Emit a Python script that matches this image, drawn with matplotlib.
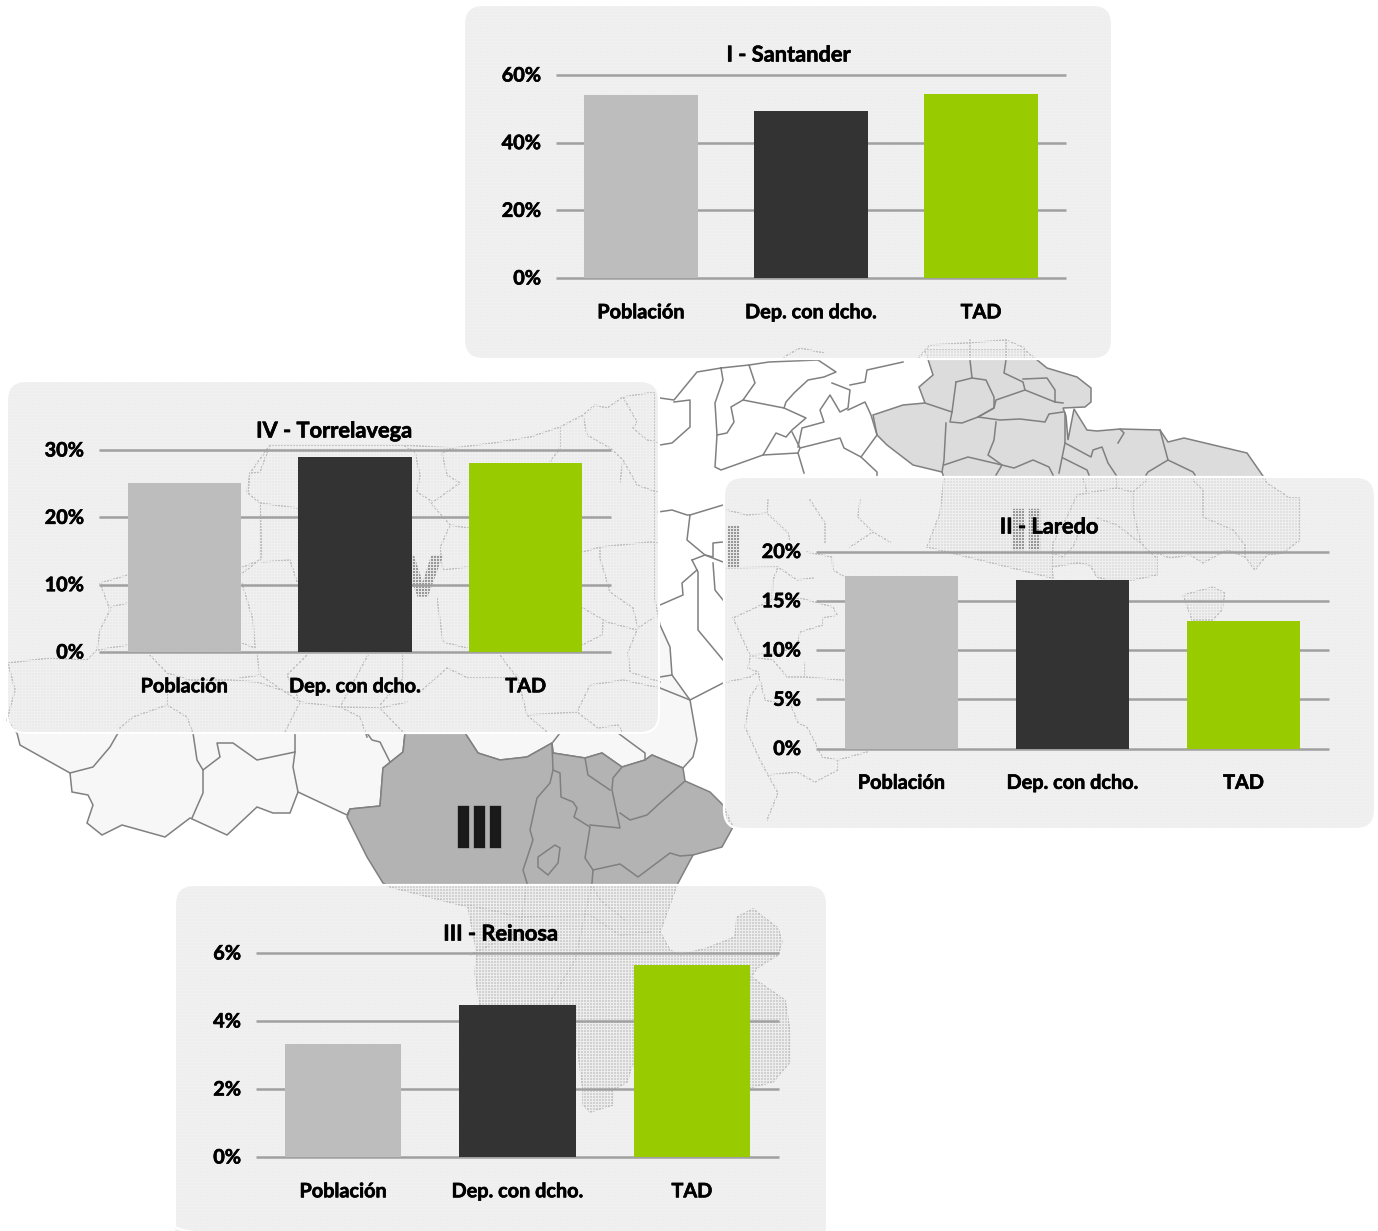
import numpy as np
import matplotlib
matplotlib.use("Agg")
import matplotlib.pyplot as plt
import matplotlib.patheffects as pe
from matplotlib.patches import FancyBboxPatch, Polygon
from matplotlib.transforms import ScaledTranslation

W, H = 1378, 1231
plt.rcParams['font.family'] = ['Lato', 'DejaVu Sans']
plt.rcParams['font.weight'] = 'bold'

# ---- chart data -------------------------------------------------------
categories = ['Población', 'Dep. con dcho.', 'TAD']
bar_colors = ['#bdbdbd', '#333333', '#99cc00']

santander_title = 'I - Santander'
santander_values = [54.1, 49.3, 54.4]
santander_ticks = [0, 20, 40, 60]

torrelavega_title = 'IV - Torrelavega'
torrelavega_values = [25.1, 29.0, 28.1]
torrelavega_ticks = [0, 10, 20, 30]

laredo_title = 'II - Laredo'
laredo_values = [17.5, 17.1, 12.95]
laredo_ticks = [0, 5, 10, 15, 20]

reinosa_title = 'III - Reinosa'
reinosa_values = [3.32, 4.47, 5.65]
reinosa_ticks = [0, 2, 4, 6]

# ---- decorative base map, outlines in image pixels --------------------
west_zone = [(648,393),(623,397),(607,408),(595,405),(583,415),(560,427),(530,437),(493,443),(453,448),
    (403,445),(270,445),(250,473),(248,493),(260,503),(260,560),(243,567),(128,575),(100,583),(110,610),
    (100,630),(97,650),(87,660),(50,658),(8,663),(15,690),(7,720),(17,733),(20,745),(70,773),(72,792),
    (88,795),(93,805),(87,823),(102,835),(122,825),(165,837),(190,818),(227,835),(257,807),(273,813),
    (290,813),(298,792),(347,815),(350,809),(380,806),(383,768),(403,752),(405,733),(465,733),(478,753),
    (500,760),(527,757),(552,743),(553,753),(585,758),(602,753),(622,767),(645,760),(652,755),(683,768),
    (693,757),(697,740),(690,700),(672,675),(670,647),(660,625),(655,600),(655,393)]
reinosa_zone = [(405,733),(465,733),(478,753),(500,760),(527,757),(552,743),(553,753),(585,758),(602,753),
    (622,767),(645,760),(652,755),(683,768),(685,781),(710,792),(723,805),(733,827),(722,847),(693,855),
    (677,885),(660,932),(670,950),(680,955),(707,948),(735,937),(737,917),(753,909),(778,928),(782,942),
    (778,955),(757,968),(748,982),(753,978),(785,1000),(790,1032),(790,1062),(773,1082),(749,1088),
    (700,1090),(632,1065),(627,1082),(613,1090),(613,1105),(590,1112),(583,1105),(583,1090),(577,1045),
    (520,1040),(480,1005),(475,973),(477,953),(468,907),(390,887),(383,883),(367,857),(347,817),(350,809),
    (380,806),(383,768),(403,752)]
reinosa_hole = [(538,857),(555,845),(560,848),(558,863),(548,875),(538,867)]
east_zone = [(925,350),(933,375),(919,387),(925,403),(903,405),(873,415),(877,435),(887,445),(913,465),
    (942,472),(944,478),(940,513),(927,547),(1000,565),(1052,578),(1052,567),(1077,563),(1090,565),
    (1097,577),(1107,580),(1133,580),(1157,575),(1157,553),(1170,558),(1190,555),(1203,563),(1227,550),
    (1245,557),(1255,570),(1267,555),(1283,553),(1300,540),(1300,498),(1290,498),(1267,483),(1263,476),
    (1247,453),(1184,438),(1168,442),(1160,430),(1120,429),(1097,431),(1087,430),(1074,409),(1068,440),
    (1066,416),(1063,408),(1085,407),(1091,402),(1091,388),(1077,377),(1047,368),(1025,350)]
east_island = [(1183,595),(1213,587),(1225,593),(1222,610),(1213,620),(1192,620)]

map_lines = [
 # east
 [(970,340),(970,360),(972,378)],[(956,382),(972,378),(986,380),(994,397),(994,408),(978,417)],
 [(956,382),(952,412)],[(925,403),(952,412),(950,422),(962,423),(978,417),(994,408),(996,400),(1025,390),(1055,402),(1063,403)],
 [(1006,340),(1006,360),(1004,373),(1023,382),(1025,390)],[(1023,379),(1047,378),(1055,390),(1055,402)],
 [(978,417),(1000,420),(1020,419),(1045,422),(1049,414),(1063,412)],[(946,423),(944,460),(942,472)],
 [(996,422),(994,440),(988,455),(1002,465),(1014,468),(1033,460),(1049,467),(1053,475)],
 [(944,465),(968,457),(1002,465),(996,475)],[(1065,413),(1065,443),(1059,473)],
 [(1065,443),(1091,457),(1093,450),(1102,447),(1108,463),(1116,475)],[(1063,458),(1087,470),(1089,475)],
 [(1120,429),(1124,433),(1118,443)],[(1160,430),(1168,460),(1148,472),(1146,475)],[(1168,460),(1193,472),(1195,475)],
 # centre north
 [(660,398),(674,400),(697,372),(721,368),(749,365),(755,383),(743,400),(784,408),(806,418),(792,430),(786,437),
  (776,433),(763,455),(721,470),(715,467),(717,435),(715,403),(723,380),(721,368)],
 [(743,400),(731,407),(734,422),(727,433),(717,435)],[(749,365),(769,362),(818,360)],
 [(818,360),(836,372),(824,377),(808,380),(794,393),(786,402),(784,408)],
 [(832,383),(850,390),(848,408),(840,412),(830,395),(820,410),(824,422),(802,428),(798,447)],
 [(850,385),(865,382),(867,370),(903,362)],[(848,410),(865,402),(871,415),(877,435),(861,457),(877,472),(877,477)],
 [(792,432),(800,448),(798,453)],[(800,448),(824,442),(840,438),(844,448),(861,457)],[(763,455),(798,453),(804,473)],
 [(660,445),(672,443),(690,427),(690,400),(674,402)],
 [(784,357),(800,348),(824,353)],[(919,357),(930,345),(966,343),(1006,340),(1025,348),(1025,357)],
 # centre south
 [(658,512),(672,510),(687,515),(690,515),(723,505)],[(690,515),(687,540),(705,555),(723,562)],
 [(692,560),(705,555),(713,557),(713,543),(723,542)],[(692,560),(698,572),(698,630),(723,660)],
 [(713,563),(715,590),(723,600)],[(697,570),(682,583),(683,595),(660,605)],
 [(690,700),(723,683)],[(660,677),(672,675)],[(660,688),(690,700)],
 # under Torrelavega
 [(583,415),(587,435),(610,448),(623,460),(620,482)],[(623,397),(637,422),(633,428),(647,440),(657,442)],
 [(623,460),(637,485),(657,492)],[(560,427),(560,448),(550,462)],
 [(453,448),(442,453),(447,475),(460,483),(433,502),(417,492),(420,475),(415,452),(403,445)],
 [(270,445),(260,472),(250,473),(247,492),(260,503),(297,508)],[(260,503),(262,558),(240,575)],
 [(262,562),(290,560),(297,582)],[(430,502),(450,525),(440,548),(443,570),(467,567)],[(450,525),(468,528)],
 [(437,598),(443,642),(467,648)],[(583,552),(600,547),(650,542),(657,543)],
 [(600,547),(600,558),(610,592),(633,608),(638,628),(653,618)],[(583,608),(607,622),(637,630)],
 [(603,622),(602,635),(582,645)],[(637,630),(628,652),(630,672),(660,682)],
 [(500,655),(517,678),(468,678),(447,668),(420,692)],[(517,675),(527,715),(547,732)],
 [(527,715),(577,712),(598,728),(618,725),(623,733)],[(577,712),(590,685),(623,680),(660,688)],
 [(300,702),(340,707),(380,708),(407,702)],[(300,702),(285,732)],[(340,707),(368,655)],
 [(403,655),(403,678),(380,705)],[(380,708),(403,732)],[(257,655),(260,675),(240,678)],[(260,675),(300,702)],
 [(307,655),(287,675),(300,702)],[(97,650),(128,645)],[(110,607),(128,603)],
 [(242,583),(253,620),(255,648)],[(242,643),(255,648)],
 [(150,655),(167,673),(190,680),(230,680),(257,682),(290,693)],[(340,707),(360,717),(367,737)],
 [(120,728),(133,717),(167,705),(187,717),(193,733)],[(167,705),(167,693),(173,687)],
 # south-west, outside the panel
 [(118,733),(110,747),(93,767),(70,773)],[(193,733),(197,760),(203,770),(203,793),(192,818)],
 [(203,770),(220,757),(217,743),(233,743),(257,760),(295,752),(295,733)],
 [(295,752),(293,767),(298,792)],
 [(367,733),(372,740),(380,742),(390,762)],[(553,742),(560,733)],[(618,733),(630,742),(645,753),(645,760)],
 # under Laredo
 [(727,510),(747,515),(767,513),(788,533),(790,540)],[(768,500),(767,513)],[(810,500),(825,523),(825,543)],
 [(860,500),(858,517),(873,532),(890,542)],[(850,547),(873,532)],[(807,552),(832,557),(833,570),(845,577)],
 [(727,568),(778,567),(773,580),(772,600),(733,618)],[(778,567),(797,580),(813,578)],
 [(772,600),(800,598),(833,607),(837,615),(823,618),(823,625),(800,632),(798,643),(782,653),(750,655),(733,618)],
 [(750,657),(748,668),(758,672),(765,700),(773,702),(790,703),(798,723),(807,727),(818,748),(822,757),(838,760),(867,752)],
 [(805,663),(805,677),(787,677),(773,660),(753,657)],[(805,677),(843,680)],[(727,682),(750,677),(758,672)],
 [(758,685),(750,697),(745,727),(760,760),(768,775),(778,793),(767,820)],
 [(768,775),(797,772),(815,782),(838,770),(838,760)],
 [(1083,478),(1087,493),(1077,495),(1067,517),(1053,543),(1052,567),(1053,578)],
 [(1087,493),(1117,488),(1133,492),(1147,480)],[(1117,477),(1117,488)],
 [(1133,492),(1133,510),(1140,540),(1145,548),(1157,558)],
 [(1193,480),(1203,490),(1203,517),(1233,530),(1245,545),(1245,557)],
 [(1097,518),(1117,525),(1143,545)],[(1078,535),(1073,547),(1063,557),(1052,553)],
 [(1077,563),(1090,565),(1097,577),(1107,580)],
]
reinosa_lines = [
 [(552,743),(553,770),(550,783),(537,798),(530,830),(533,840),(523,870),(527,883),(520,930),(470,955)],
 [(553,770),(560,773),(561,797),(573,802),(577,808),(574,817),(590,827),(585,858),(593,870),(592,883),(575,960),(545,1010)],
 [(590,825),(620,828),(612,790),(613,778),(622,767)],[(585,758),(588,775),(610,790)],
 [(620,813),(630,820),(647,815),(660,803),(685,781)],
 [(593,870),(620,864),(638,877),(670,853),(680,856),(693,855)],
 [(468,905),(520,917),(590,915),(620,935),(650,932)],[(592,885),(600,900),(625,920)],
]

# ---- figure -----------------------------------------------------------
fig = plt.figure(figsize=(W / 100, H / 100), dpi=100, facecolor='white')
bg = fig.add_axes([0, 0, 1, 1], zorder=0)
bg.set_xlim(0, W)
bg.set_ylim(H, 0)
bg.axis('off')

bg.add_patch(Polygon(west_zone, closed=True, fc='#f7f7f7', ec='#808080', lw=1.1, zorder=1))
bg.add_patch(Polygon(east_zone, closed=True, fc='#dcdcdc', ec='#808080', lw=1.1, zorder=1))
bg.add_patch(Polygon(east_island, closed=True, fc='#dcdcdc', ec='#808080', lw=1.0, zorder=1))
bg.add_patch(Polygon(reinosa_zone, closed=True, fc='#b3b3b3', ec='#808080', lw=1.1, zorder=2))
bg.add_patch(Polygon(reinosa_hole, closed=True, fc='#b3b3b3', ec='#808080', lw=1.1, zorder=3))
for pts in map_lines:
    a = np.array(pts)
    bg.plot(a[:, 0], a[:, 1], color='#808080', lw=1.1, zorder=2, solid_joinstyle='round')
for pts in reinosa_lines:
    a = np.array(pts)
    bg.plot(a[:, 0], a[:, 1], color='#808080', lw=1.1, zorder=3)

# zone numerals printed on the map
numeral = dict(family='Liberation Sans', weight='bold', color='#1a1a1a', va='center', zorder=4,
               path_effects=[pe.withStroke(linewidth=2.4, foreground='#1a1a1a', joinstyle='miter')])
bg.text(479, 831, 'III', fontsize=41, ha='center', **numeral)
bg.text(441, 581, 'IV', fontsize=40, ha='right', **numeral)
bg.text(1026, 534, 'II', fontsize=40, ha='center', **numeral)
bg.text(733, 551, 'I', fontsize=40, ha='center', **numeral)


def panel(x0, y0, x1, y1, z):
    """Rounded translucent card with the fine lattice of the original."""
    w, h = x1 - x0, y1 - y0
    img = np.zeros((h, w, 4))
    yy, xx = np.mgrid[0:h, 0:w]
    holes = ((xx % 3) != 0) & ((yy % 3) != 0)
    img[..., :3] = np.where(holes, 0.90, 0.945)[..., None]
    img[..., 3] = np.where(holes, 0.62, 0.96)
    im = bg.imshow(img, extent=(x0, x1, y1, y0), origin='upper', interpolation='nearest',
                   aspect='auto', zorder=z)
    card = FancyBboxPatch((x0 + 17, y0 + 17), w - 34, h - 34, boxstyle='round,pad=17,rounding_size=19',
                          fc='none', ec='white', lw=1.6, zorder=z + 0.1)
    bg.add_patch(card)
    im.set_clip_path(card)


panels = [
    (464, 5, 1112, 359), (7, 381, 659, 733), (724, 477, 1375, 829), (175, 885, 827, 1245),
]
for i, p in enumerate(panels):
    panel(*p, 5 + i)
bg.set_xlim(0, W)
bg.set_ylim(H, 0)

FS = 14.3
heavier = [pe.withStroke(linewidth=0.45, foreground='black')]
lift = ScaledTranslation(0, 1.5 / 100, fig.dpi_scale_trans)


def chart(title, values, ticks, x0, x1, y_top, y_zero, title_xy):
    ax = fig.add_axes([x0 / W, 1 - y_zero / H, (x1 - x0) / W, (y_zero - y_top) / H], zorder=3)
    ax.patch.set_alpha(0)
    ax.bar(range(3), values, width=0.666, color=bar_colors, zorder=3)
    ax.set_xlim(-0.5, 2.5)
    ax.set_ylim(ticks[0], ticks[-1])
    ax.set_yticks(ticks)
    ax.set_yticklabels([f'{t}%' for t in ticks], fontsize=FS, fontweight='bold', color='black')
    ax.set_xticks(range(3))
    ax.set_xticklabels(categories, fontsize=FS, fontweight='bold', color='black')
    ax.tick_params(axis='both', length=0)
    ax.tick_params(axis='y', pad=10.8)
    ax.tick_params(axis='x', pad=17.5)
    ax.yaxis.grid(True, color='#a0a0a0', lw=1.8, zorder=1)
    ax.set_axisbelow(True)
    for s in ax.spines.values():
        s.set_visible(False)
    for g in ax.get_ygridlines():
        g.set_clip_on(False)
        g.set_solid_capstyle('butt')
    for lab in ax.get_xticklabels() + ax.get_yticklabels():
        lab.set_path_effects(heavier)
    for lab in ax.get_yticklabels():
        lab.set_transform(lab.get_transform() + lift)
    bg.text(title_xy[0], title_xy[1], title, fontsize=15.7, fontweight='bold', color='black',
            ha='center', va='center', zorder=20, path_effects=heavier)


chart(santander_title, santander_values, santander_ticks, 556, 1066, 75, 278, (788.5, 55))
chart(torrelavega_title, torrelavega_values, torrelavega_ticks, 99, 611, 450, 652, (334, 431))
chart(laredo_title, laredo_values, laredo_ticks, 816, 1329, 551.5, 748.5, (1049, 527))
chart(reinosa_title, reinosa_values, reinosa_ticks, 256, 779, 953, 1157, (500.5, 934))

fig.savefig('out.png', dpi=100, facecolor='white')
